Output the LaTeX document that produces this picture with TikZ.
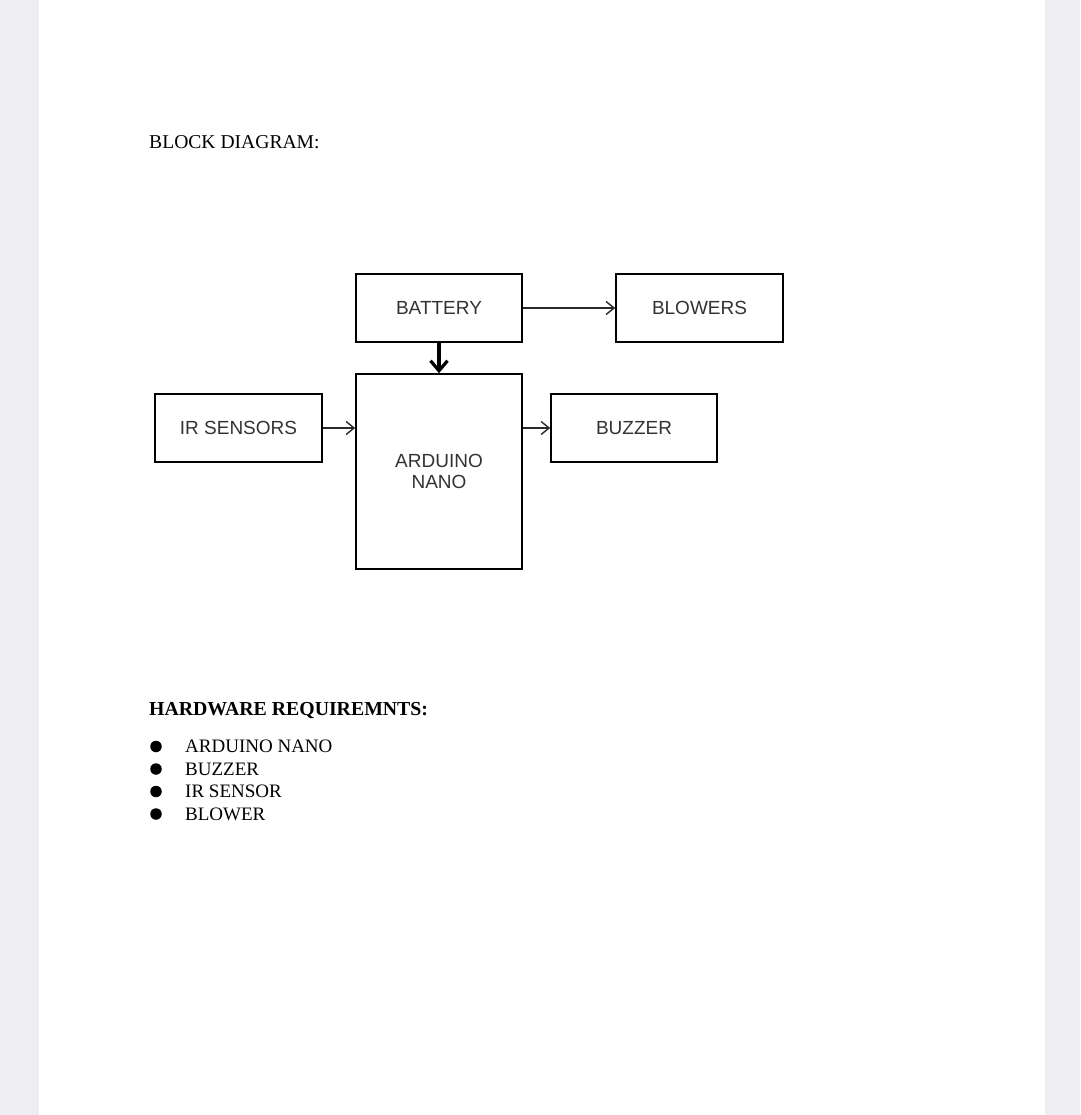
\documentclass[tikz,border=0pt]{standalone}
\usepackage{fontspec}
\setmainfont{Liberation Serif}
\setsansfont{Liberation Sans}
\usetikzlibrary{arrows.meta}
\definecolor{pagebg}{HTML}{EEEEF2}
\definecolor{boxtext}{HTML}{333333}
\definecolor{arrowcol}{HTML}{2A2A2A}
\tikzset{
  blockbox/.style={draw=black, line width=1.6pt, minimum height=68pt, minimum width=166pt,
    font=\sffamily\fontsize{19}{21}\selectfont, text=boxtext, align=center, inner sep=0pt},
  thinarrow/.style={draw=arrowcol, line width=1.4pt, -{Straight Barb[length=8pt,width=13pt,line width=1.4pt]}},
  thickarrow/.style={draw=black, line width=3.2pt, -{Straight Barb[length=10pt,width=17pt,line width=3.2pt]}},
  serifheading/.style={font=\fontsize{19.6}{22}\selectfont, anchor=west, inner sep=0pt, text=black},
  listitem/.style={font=\fontsize{19}{22}\selectfont, anchor=west, inner sep=0pt, text=black},
  bulletdot/.style={circle, fill=black, minimum size=11.5pt, inner sep=0pt}
}
\begin{document}
\begin{tikzpicture}[x=1pt,y=-1pt]
  \useasboundingbox (0,0) rectangle (1080,1115);
  \fill[pagebg] (0,0) rectangle (1080,1115);
  \fill[white] (39,0) rectangle (1045,1115);

  \node[serifheading] (title) at (149,142.5) {BLOCK DIAGRAM:};

  \node[blockbox] (battery) at (439,308) {BATTERY};
  \node[blockbox, minimum width=167pt] (blowers) at (699.5,308) {BLOWERS};
  \node[blockbox, minimum height=195pt] (arduino) at (439,471.5) {ARDUINO\\NANO};
  \node[blockbox, minimum width=167pt] (ir) at (238.5,428) {IR SENSORS};
  \node[blockbox] (buzzer) at (634,428) {BUZZER};

  \draw[thinarrow] (battery.east) -- (blowers.west);
  \draw[thinarrow] (ir.east) -- (ir.east -| arduino.west);
  \draw[thinarrow] (arduino.east |- buzzer.west) -- (buzzer.west);
  \draw[thickarrow] (battery.south) -- (arduino.north);

  \node[serifheading, font=\bfseries\fontsize{19.8}{22}\selectfont] (hw) at (149,710.5) {HARDWARE REQUIREMNTS:};

  \node[bulletdot] (b1) at (156,746.5) {};
  \node[listitem] (l1) at (185,746.5) {ARDUINO NANO};
  \node[bulletdot] (b2) at (156,769) {};
  \node[listitem] (l2) at (185,769) {BUZZER};
  \node[bulletdot] (b3) at (156,791.5) {};
  \node[listitem] (l3) at (185,791.5) {IR SENSOR};
  \node[bulletdot] (b4) at (156,814) {};
  \node[listitem] (l4) at (185,814) {BLOWER};
\end{tikzpicture}
\end{document}
